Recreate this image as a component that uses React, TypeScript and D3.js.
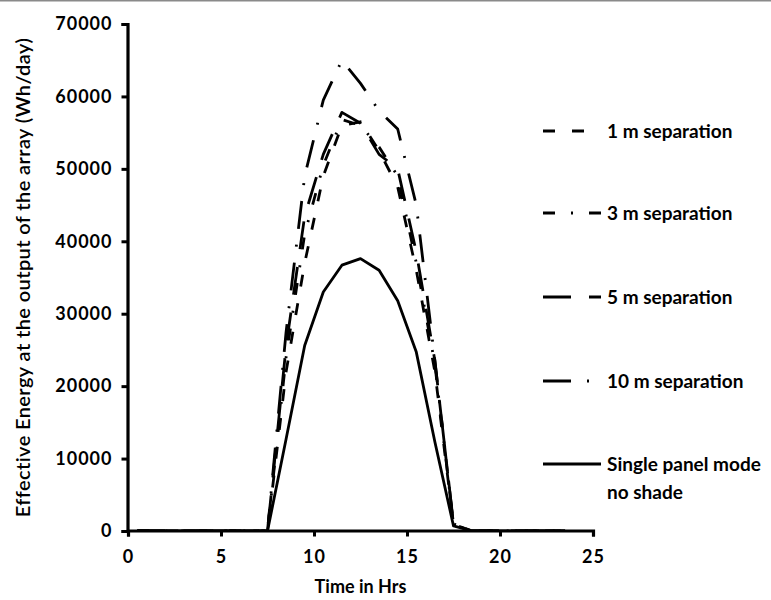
/* eslint-disable */
import React, { useEffect, useRef } from 'react';
import * as d3 from 'd3';

// ------- Data -------
const hours = [0.5, 1.5, 2.5, 3.5, 4.5, 5.5, 6.5, 7.5, 8.5, 9.5, 10.5, 11.5, 12.5, 13.5, 14.5, 15.5, 16.5, 17.5, 18.5, 19.5, 20.5, 21.5, 22.5, 23.5];

const sep1m = [0, 0, 0, 0, 0, 0, 0, 0, 22000, 37000, 49000, 56000, 56500, 52500, 47500, 36000, 22000, 900, 0, 0, 0, 0, 0, 0];
const sep3m = [0, 0, 0, 0, 0, 0, 0, 0, 24000, 41000, 50500, 56800, 56000, 53000, 49000, 37000, 23000, 900, 0, 0, 0, 0, 0, 0];
const sep5m = [0, 0, 0, 0, 0, 0, 0, 0, 25500, 43500, 52000, 57800, 56300, 52000, 50000, 38500, 23500, 900, 0, 0, 0, 0, 0, 0];
const sep10m = [0, 0, 0, 0, 0, 0, 0, 0, 27500, 49000, 59500, 65000, 61800, 58000, 55500, 45000, 23500, 1000, 0, 0, 0, 0, 0, 0];
const singlePanel = [0, 0, 0, 0, 0, 0, 0, 0, 12700, 25600, 33000, 36700, 37600, 36000, 31800, 24700, 12300, 700, 0, 0, 0, 0, 0, 0];

const xTicks = [0, 5, 10, 15, 20, 25];
const yTicks = [0, 10000, 20000, 30000, 40000, 50000, 60000, 70000];

const seriesNames = ['1 m separation', '3 m separation', '5 m separation', '10 m separation', 'Single panel mode'];
const seriesValues = [sep1m, sep3m, sep5m, sep10m, singlePanel];
const dashes = ['12,17', '12,16,2,16', '28,18', '28,16,2,16', null];

export default function App() {
  const ref = useRef<SVGSVGElement>(null);

  useEffect(() => {
    if (!ref.current) return;
    const svg = d3.select(ref.current);
    svg.selectAll('*').remove();

    const width = 771;
    const height = 600;
    const margin = { top: 24, right: 178, bottom: 69, left: 128 };
    const font = 'Lato, "Open Sans", sans-serif';

    svg.attr('width', width).attr('height', height).attr('viewBox', `0 0 ${width} ${height}`);

    svg.append('rect').attr('width', width).attr('height', height).attr('fill', '#fff');
    // figure border at the top
    svg.append('line')
      .attr('x1', 0).attr('x2', width)
      .attr('y1', 0.75).attr('y2', 0.75)
      .attr('stroke', '#8a8a8a')
      .attr('stroke-width', 1.5);

    // ------- Scales -------
    const x = d3.scaleLinear().domain([0, 25]).range([margin.left, width - margin.right]);
    const y = d3.scaleLinear().domain([0, 70000]).range([height - margin.bottom, margin.top]);

    // keep the flat zero stretches from bleeding below the x axis
    svg.append('defs').append('clipPath').attr('id', 'plot-clip')
      .append('rect')
      .attr('x', 0).attr('y', 0)
      .attr('width', width).attr('height', y(0));

    // ------- Lines -------
    const line = d3
      .line<number>()
      .x((_, i) => x(hours[i]))
      .y((d) => y(d));

    const lines = svg.append('g').attr('clip-path', 'url(#plot-clip)');
    seriesValues.forEach((vals, i) => {
      const p = lines.append('path')
        .datum(vals)
        .attr('fill', 'none')
        .attr('stroke', '#000')
        .attr('stroke-width', 2.8)
        .attr('stroke-linejoin', 'round')
        .attr('d', line);
      if (dashes[i]) p.attr('stroke-dasharray', dashes[i]);
    });

    // ------- Axes -------
    const xAxis = svg.append('g')
      .attr('transform', `translate(0, ${y(0) - 0.5})`)
      .call(d3.axisBottom(x).tickValues(xTicks).tickSize(6).tickPadding(14).tickFormat(d3.format('d')));

    const yAxis = svg.append('g')
      .attr('transform', `translate(${x(0) - 0.5}, 0)`)
      .call(d3.axisLeft(y).tickValues(yTicks).tickSize(6).tickPadding(9).tickFormat(d3.format('d')));

    [xAxis, yAxis].forEach((g) => {
      g.select('.domain').attr('stroke', '#000').attr('stroke-width', 3.2);
      g.selectAll('.tick line').attr('stroke', '#000').attr('stroke-width', 3);
      g.selectAll('.tick text')
        .attr('fill', '#000')
        .style('font-family', font)
        .style('font-weight', 'bold')
        .style('font-size', '18px')
        .style('letter-spacing', '1px');
    });

    // ------- Axis titles -------
    svg.append('text')
      .attr('x', (x(0) + x(25)) / 2)
      .attr('y', 588)
      .attr('dy', '0.3em')
      .attr('text-anchor', 'middle')
      .style('font-family', font)
      .style('font-weight', 'bold')
      .style('font-size', '18px')
      .text('Time in Hrs');

    svg.append('text')
      .attr('transform', `translate(23, ${(y(0) + y(70000)) / 2}) rotate(-90)`)
      .attr('dy', '0.35em')
      .attr('text-anchor', 'middle')
      .style('font-family', font)
      .style('font-weight', 600)
      .style('font-size', '20px')
      .style('letter-spacing', '0.4px')
      .text('Effective Energy at the output of the array (Wh/day)');

    // ------- Legend -------
    const legendY = [131, 213, 297, 381, 464];
    const legend = svg.append('g');
    seriesNames.forEach((name, i) => {
      const l = legend.append('line')
        .attr('x1', 543).attr('x2', 601)
        .attr('y1', legendY[i]).attr('y2', legendY[i])
        .attr('stroke', '#000')
        .attr('stroke-width', 3);
      if (dashes[i]) l.attr('stroke-dasharray', dashes[i]);

      legend.append('text')
        .attr('x', 607)
        .attr('y', legendY[i])
        .attr('dy', '0.35em')
        .style('font-family', font)
        .style('font-weight', 'bold')
        .style('font-size', '19px')
        .text(name);
    });
    legend.append('text')
      .attr('x', 607)
      .attr('y', legendY[4] + 28)
      .attr('dy', '0.35em')
      .style('font-family', font)
      .style('font-weight', 'bold')
      .style('font-size', '19px')
      .text('no shade');
  }, []);

  return (
    <div style={{ position: 'absolute', left: 0, top: 0 }}>
      <svg ref={ref} style={{ display: 'block' }} />
    </div>
  );
}
